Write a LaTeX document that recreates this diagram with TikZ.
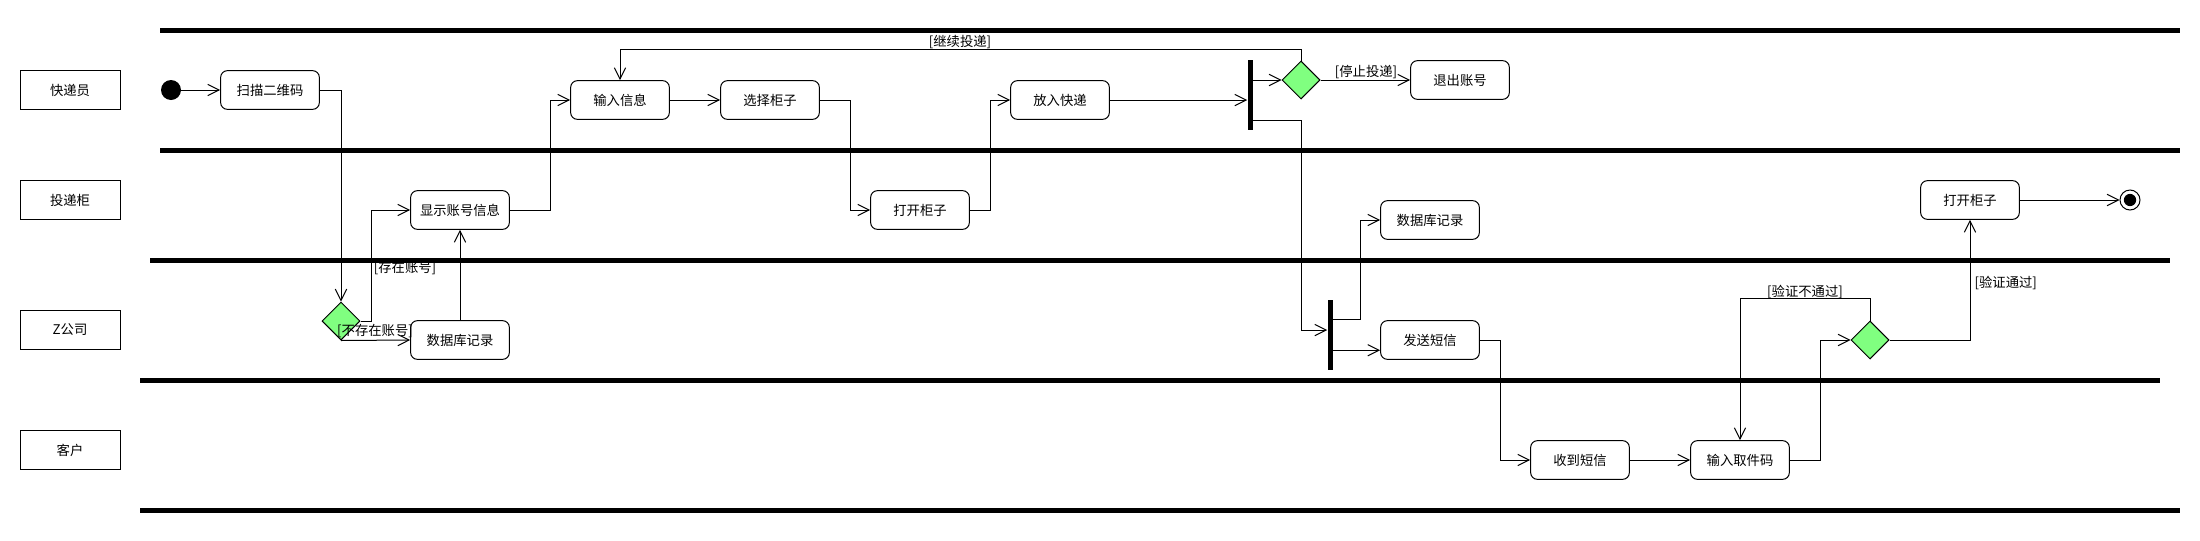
\documentclass[tikz,border=0pt]{standalone}
\usepackage{fontspec}
\newfontfamily\cjk{Noto Sans CJK SC}
\usetikzlibrary{arrows.meta,shapes.geometric}
\definecolor{choicegreen}{RGB}{128,255,128}

\begin{document}
\begin{tikzpicture}[x = 0.75pt, y = -0.75pt, font = \cjk\fontsize{10}{12}\selectfont,
    lane/.style = {line width = 3.75pt},
    role/.style = {draw, line width = 0.75pt, minimum width = 75pt, minimum height = 29pt},
    act/.style = {draw, rounded corners = 5pt, line width = 0.75pt, minimum width = 74pt, minimum height = 29pt},
    choice/.style = {diamond, draw, fill = choicegreen, line width = 0.75pt, minimum width = 28.5pt, minimum height = 28.5pt, inner sep = 0pt},
    bar/.style = {fill = black, minimum width = 3.75pt, minimum height = 52.5pt, inner sep = 0pt},
    flow/.style = {line width = 0.75pt, -{Straight Barb[length = 8.5pt, width = 8.5pt]}},
    guard/.style = {inner sep = 1pt}]
    \useasboundingbox (0,0) rectangle (2200,540);

    % Swimlane borders
    \draw[lane] (160,30) -- (2180,30);
    \draw[lane] (160,150) -- (2180,150);
    \draw[lane] (150,260) -- (2170,260);
    \draw[lane] (140,380) -- (2160,380);
    \draw[lane] (140,510) -- (2180,510);

    % Lane names
    \node[role] (courier) at (70,90) {快递员};
    \node[role] (locker) at (70,200) {投递柜};
    \node[role] (company) at (70,330) {Z公司};
    \node[role] (client) at (70,450) {客户};

    % Start and end
    \node[circle, fill = black, minimum size = 15pt, inner sep = 0pt] (start) at (171,90) {};
    \node[circle, draw, line width = 0.75pt, minimum size = 15pt, inner sep = 0pt,
        path picture = {\fill (path picture bounding box.center) circle (4.6pt);}] (stop) at (2130,200) {};

    % Activities
    \node[act] (scan) at (270,90) {扫描二维码};
    \node[act] (showacc) at (460,210) {显示账号信息};
    \node[act] (dbrec1) at (460,340) {数据库记录};
    \node[act] (input) at (620,100) {输入信息};
    \node[act] (choose) at (770,100) {选择柜子};
    \node[act] (open1) at (920,210) {打开柜子};
    \node[act] (put) at (1060,100) {放入快递};
    \node[act] (logout) at (1460,80) {退出账号};
    \node[act] (dbrec2) at (1430,220) {数据库记录};
    \node[act] (sendsms) at (1430,340) {发送短信};
    \node[act] (getsms) at (1580,460) {收到短信};
    \node[act] (inputcode) at (1740,460) {输入取件码};
    \node[act] (open2) at (1970,200) {打开柜子};

    % Decisions and forks
    \node[choice] (dec1) at (341,321) {};
    \node[choice] (dec2) at (1301,80) {};
    \node[choice] (dec3) at (1870,340) {};
    \node[bar] (fork1) at (1250,95) {};
    \node[bar] (fork2) at (1330,335) {};

    % Guards
    \node[guard] (lbexist) at (405,268) {[存在账号]};
    \node[guard] (lbnone) at (375,331) {[不存在账号]};
    \node[guard] (lbgoon) at (960,42) {[继续投递]};
    \node[guard] (lbstop) at (1366,72) {[停止投递]};
    \node[guard] (lbfail) at (1805,292) {[验证不通过]};
    \node[guard, anchor = west] (lbpass) at (1973,283) {[验证通过]};

    % Flows
    \draw[flow] (start) -- (scan);
    \draw[flow] (scan.east) -| (dec1.north);
    \draw[flow] (dec1.east) -- ++(11,0) |- (showacc.west);
    \draw[flow] (dec1.south) -- (dbrec1.west);
    \draw[flow] (dbrec1) -- (showacc);
    \draw[flow] (showacc.east) -- ++(41,0) |- (input.west);
    \draw[flow] (input) -- (choose);
    \draw[flow] (choose.east) -- ++(31,0) |- (open1.west);
    \draw[flow] (open1.east) -- ++(21,0) |- (put.west);
    \draw[flow] (put.east) -- (put.east -| fork1.west);
    \draw[flow] (fork1.east |- dec2.west) -- (dec2.west);
    \draw[flow] (dec2.north) -- ++(0,-11) -| (input.north);
    \draw[flow] (dec2.east) -- (logout.west);

    \coordinate (drop) at (1301,330);
    \draw[flow] ([yshift = 7.5pt]fork1.south east) -| (drop) -- (drop -| fork2.west);
    \draw[flow] ([yshift = -15pt]fork2.north east) -- ++(27.5,0) |- (dbrec2.west);
    \coordinate (sms) at ([yshift = 15pt]fork2.south east);
    \draw[flow] (sms) -- (sms -| sendsms.west);

    \draw[flow] (sendsms.east) -- ++(21,0) |- (getsms.west);
    \draw[flow] (getsms) -- (inputcode);
    \draw[flow] (inputcode.east) -- ++(31,0) |- (dec3.west);
    \draw[flow] (dec3.north) -- ++(0,-22) -| (inputcode.north);
    \draw[flow] (dec3.east) -| (open2.south);
    \draw[flow] (open2) -- (stop);
\end{tikzpicture}
\end{document}
